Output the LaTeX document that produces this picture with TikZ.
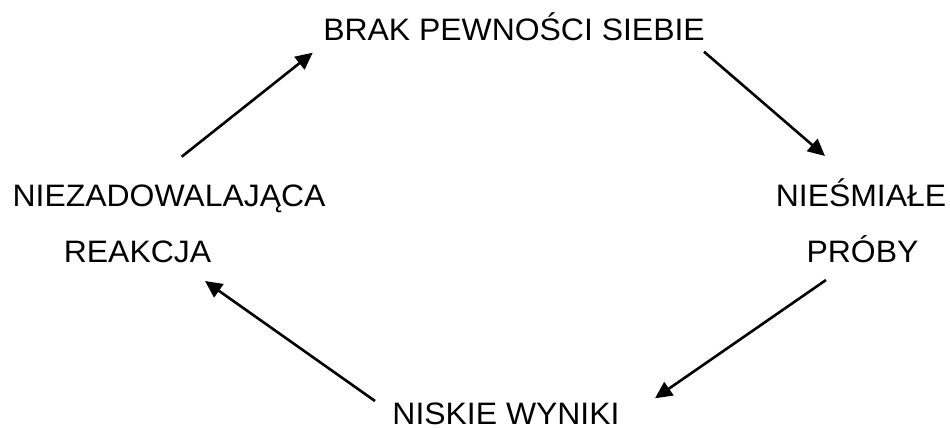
\documentclass[tikz,border=0pt]{standalone}
\usepackage{fontspec}
\setmainfont[FakeStretch=1.03]{Liberation Sans}
\usetikzlibrary{arrows.meta}
\begin{document}
\begin{tikzpicture}[x=1pt,y=-1pt,
  label/.style={inner sep=0pt,anchor=base,font=\fontsize{31}{37}\selectfont},
  cycle/.style={line width=2.6pt,-{Triangle[length=17pt,width=16pt]}}]
\useasboundingbox (0,0) rectangle (950,428);
% labels
\node[label] (top)  at (514,41)    {BRAK PEWNOŚCI SIEBIE};
\node[label] (lft1) at (169,206)   {NIEZADOWALAJĄCA};
\node[label] (lft2) at (137.5,262) {REAKCJA};
\node[label] (rgt1) at (861,206)   {NIEŚMIAŁE};
\node[label] (rgt2) at (862.5,262) {PRÓBY};
\node[label] (bot)  at (506,424)   {NISKIE WYNIKI};
% arrow ends
\coordinate (a1s) at (181.7,156.7);
\coordinate (a1e) at (312.7,52.7);
\coordinate (a2s) at (704,51.7);
\coordinate (a2e) at (825,156);
\coordinate (a3s) at (826,280);
\coordinate (a3e) at (655,398.3);
\coordinate (a4s) at (375,401);
\coordinate (a4e) at (205,281);
% the cycle
\draw[cycle] (a1s) -- (a1e);
\draw[cycle] (a2s) -- (a2e);
\draw[cycle] (a3s) -- (a3e);
\draw[cycle] (a4s) -- (a4e);
\end{tikzpicture}
\end{document}
